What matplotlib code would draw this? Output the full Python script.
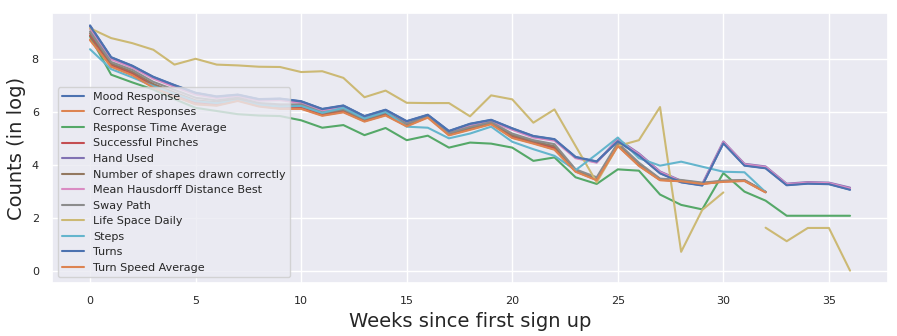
import numpy as np
import matplotlib
matplotlib.use("Agg")
import matplotlib.pyplot as plt
import seaborn as sns

sns.set_theme()
plt.rcParams['font.family'] = ['DejaVu Sans']

nan = np.nan
weeks = np.arange(37)

mood = [9.28, 8.08, 7.76, 7.34, 7.03, 6.74, 6.60, 6.67, 6.50, 6.52, 6.42, 6.13, 6.26, 5.86, 6.10, 5.67,
        5.91, 5.30, 5.57, 5.72, 5.40, 5.11, 4.99, 4.32, 4.15, 4.92, 4.38, 3.71, 3.37, 3.25, 4.84, 4.00,
        3.90, 3.26, 3.32, 3.30, 3.09]
correct = [8.75, 7.74, 7.42, 6.95, 6.62, 6.32, 6.27, 6.45, 6.24, 6.15, 6.15, 5.89, 6.02, 5.67, 5.90, 5.49,
           5.82, 5.15, 5.36, 5.57, 5.05, 4.84, 4.61, 3.77, 3.45, 4.74, 3.99, 3.45, 3.40, 3.30, 3.39, 3.42,
           2.99, nan, nan, nan, nan]
resp_time = [8.86, 7.42, 7.13, 6.86, 6.50, 6.17, 6.05, 5.93, 5.88, 5.86, 5.70, 5.42, 5.52, 5.14, 5.41, 4.95,
             5.12, 4.67, 4.86, 4.82, 4.67, 4.17, 4.30, 3.55, 3.30, 3.85, 3.80, 2.90, 2.51, 2.34, 3.71, 3.01,
             2.67, 2.10, 2.10, 2.10, 2.10]
pinches = [8.90, 7.79, 7.48, 7.01, 6.68, 6.38, 6.32, 6.50, 6.29, 6.21, 6.20, 5.93, 6.06, 5.70, 5.94, 5.52,
           5.84, 5.18, 5.39, 5.59, 5.09, 4.87, 4.66, 3.79, 3.47, 4.77, 4.02, 3.46, 3.41, 3.31, 3.40, 3.43,
           3.00, nan, nan, nan, nan]
hand = [9.24, 8.05, 7.73, 7.31, 7.00, 6.71, 6.57, 6.64, 6.47, 6.49, 6.39, 6.10, 6.23, 5.83, 6.07, 5.64,
        5.88, 5.27, 5.54, 5.69, 5.37, 5.08, 4.96, 4.29, 4.12, 4.99, 4.45, 3.77, 3.42, 3.30, 4.90, 4.06,
        3.96, 3.31, 3.37, 3.35, 3.16]
shapes = [8.98, 7.84, 7.53, 7.07, 6.75, 6.45, 6.38, 6.52, 6.31, 6.25, 6.25, 5.96, 6.09, 5.72, 5.97, 5.54,
          5.85, 5.20, 5.42, 5.61, 5.14, 4.91, 4.72, 3.82, 3.50, 4.80, 4.06, 3.48, 3.43, 3.33, 3.41, 3.44,
          3.00, nan, nan, nan, nan]
hausdorff = [9.15, 8.00, 7.69, 7.27, 6.96, 6.67, 6.54, 6.61, 6.44, 6.46, 6.35, 6.07, 6.19, 5.80, 6.03, 5.61,
             5.85, 5.24, 5.51, 5.66, 5.34, 5.05, 4.93, 4.27, 4.10, 4.96, 4.42, 3.75, 3.40, 3.28, 4.88, 4.04,
             3.94, 3.29, 3.35, 3.33, 3.13]
sway = [9.05, 7.90, 7.60, 7.15, 6.85, 6.55, 6.45, 6.55, 6.35, 6.30, 6.30, 6.00, 6.12, 5.75, 6.00, 5.57,
        5.86, 5.22, 5.45, 5.63, 5.20, 4.95, 4.80, 3.85, 3.55, 4.85, 4.10, 3.50, 3.45, 3.35, 3.42, 3.45,
        3.00, nan, nan, nan, nan]
life_space = [9.17, 8.80, 8.61, 8.36, 7.80, 8.02, 7.80, 7.77, 7.72, 7.71, 7.52, 7.55, 7.30, 6.57, 6.82, 6.36,
              6.35, 6.35, 5.85, 6.64, 6.49, 5.61, 6.11, 4.73, 3.36, 4.73, 4.95, 6.20, 0.74, 2.32, 2.98, nan,
              1.65, 1.14, 1.64, 1.64, 0.03]
steps = [8.38, 7.63, 7.32, 6.99, 6.70, 6.42, 6.35, 6.45, 6.28, 6.22, 6.24, 5.98, 6.17, 5.77, 6.02, 5.46,
         5.42, 5.02, 5.20, 5.46, 4.89, 4.61, 4.36, 3.82, 4.42, 5.05, 4.27, 3.99, 4.14, 3.95, 3.76, 3.74,
         2.99, nan, nan, nan, nan]
turns = [9.26, 8.07, 7.75, 7.33, 7.02, 6.73, 6.59, 6.66, 6.49, 6.51, 6.41, 6.12, 6.25, 5.85, 6.09, 5.66,
         5.90, 5.29, 5.56, 5.71, 5.39, 5.10, 4.98, 4.31, 4.14, 4.91, 4.37, 3.70, 3.36, 3.24, 4.83, 3.99,
         3.89, 3.25, 3.31, 3.29, 3.08]
turn_speed = [8.72, 7.72, 7.40, 6.93, 6.60, 6.30, 6.25, 6.43, 6.22, 6.13, 6.13, 5.87, 6.00, 5.65, 5.88, 5.47,
              5.80, 5.13, 5.34, 5.55, 5.03, 4.82, 4.59, 3.76, 3.44, 4.73, 3.98, 3.44, 3.40, 3.30, 3.38, 3.41,
              2.98, nan, nan, nan, nan]

series = [
    ("Mood Response", mood),
    ("Correct Responses", correct),
    ("Response Time Average", resp_time),
    ("Successful Pinches", pinches),
    ("Hand Used", hand),
    ("Number of shapes drawn correctly", shapes),
    ("Mean Hausdorff Distance Best", hausdorff),
    ("Sway Path", sway),
    ("Life Space Daily", life_space),
    ("Steps", steps),
    ("Turns", turns),
    ("Turn Speed Average", turn_speed),
]

fig = plt.figure(figsize=(8.97, 3.36), dpi=100)
ax = fig.add_axes([0.058, 0.158, 0.932, 0.803])
for name, vals in series:
    ax.plot(weeks, vals, label=name, linewidth=1.5)

ax.set_xlabel("Weeks since first sign up", fontsize=14)
ax.set_ylabel("Counts (in log)", fontsize=14)
ax.tick_params(labelsize=8)
ax.legend(loc="lower left", fontsize=8)
fig.savefig("out.png", dpi=100)
